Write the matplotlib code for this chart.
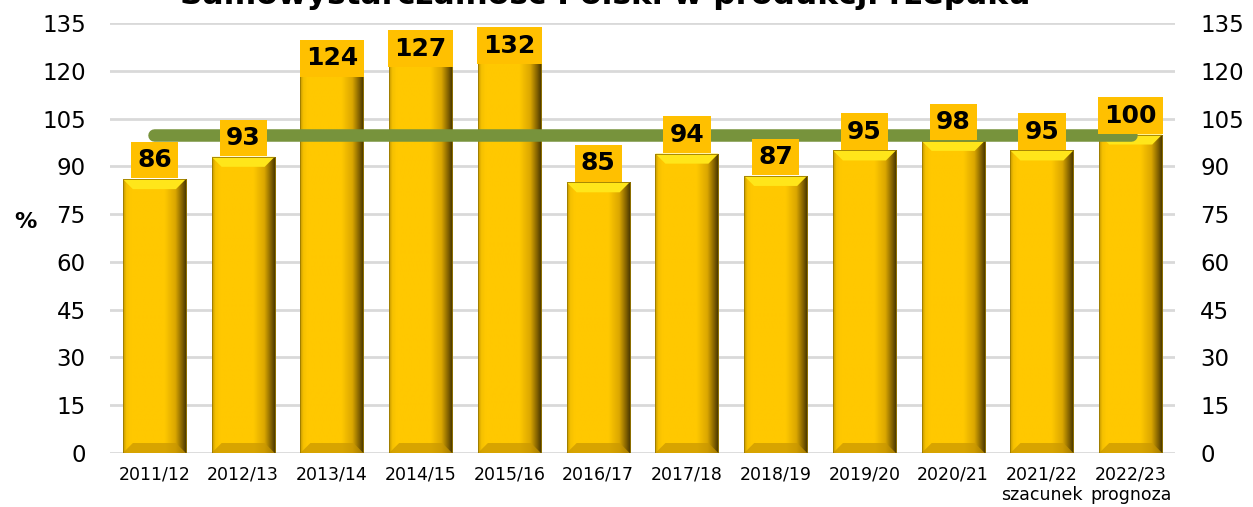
import numpy as np
import matplotlib.pyplot as plt
from matplotlib.patches import Rectangle, Polygon
from matplotlib.colors import to_rgb

seasons = ["2011/12", "2012/13", "2013/14", "2014/15", "2015/16", "2016/17",
           "2017/18", "2018/19", "2019/20", "2020/21", "2021/22\nszacunek", "2022/23\nprognoza"]
self_sufficiency = [86, 93, 124, 127, 132, 85, 94, 87, 95, 98, 95, 100]
reference_line = [100] * len(seasons)
y_ticks = [0, 15, 30, 45, 60, 75, 90, 105, 120, 135]

title = "Samowystarczalność Polski w produkcji rzepaku"

BAR_W = 0.71
LABEL_CAP = 122

plt.rcParams["font.family"] = ["DejaVu Sans"]

fig = plt.figure(figsize=(12.53, 5.07), dpi=100)
ax = fig.add_axes([0.0878, 0.1065, 0.85, 0.848])
x = np.arange(len(seasons))

ax.set_xlim(-0.5, len(seasons) - 0.5)
ax.set_ylim(0, 135)

# horizontal shading of the bars: slight dark left edge, gold body, dark right edge
stops = [(0.0, "#c09600"), (0.05, "#f5c000"), (0.12, "#ffc800"), (0.65, "#ffc800"),
         (0.82, "#dba700"), (0.93, "#806000"), (1.0, "#403000")]
pos = np.linspace(0, 1, 200)
grad = np.zeros((1, 200, 3))
for c in range(3):
    grad[0, :, c] = np.interp(pos, [s[0] for s in stops], [to_rgb(s[1])[c] for s in stops])

px_x = 1065 / len(seasons)
px_y = 430 / 135
bev_x = 10 / px_x
bev_y = 10 / px_y

for xi, v in zip(x, self_sufficiency):
    l, r = xi - BAR_W / 2, xi + BAR_W / 2
    rect = Rectangle((l, 0), BAR_W, v, facecolor="none", edgecolor="none", zorder=2)
    ax.add_patch(rect)
    im = ax.imshow(grad, extent=[l, r, 0, v], aspect="auto", zorder=2, interpolation="bilinear")
    im.set_clip_path(rect)
    # top bevel
    ax.add_patch(Polygon([(l, v), (r, v), (r - bev_x, v - bev_y), (l + bev_x, v - bev_y)],
                         closed=True, facecolor="#ffe61a", edgecolor="none", zorder=3))
    # bottom bevel
    ax.add_patch(Polygon([(l, 0), (r, 0), (r - bev_x, bev_y), (l + bev_x, bev_y)],
                         closed=True, facecolor="#c89600", edgecolor="none", alpha=0.7, zorder=3))
    ax.add_patch(Rectangle((l, 0), BAR_W, v, facecolor="none", edgecolor="#9a7a00",
                           linewidth=0.6, zorder=3))

ax.plot(x, reference_line, color="#77933c", linewidth=9, solid_capstyle="round", zorder=4)

for xi, v in zip(x, self_sufficiency):
    # tall bars: label pulled down inside the plot area
    base = v if v <= 110 else min(v - 6, LABEL_CAP)
    ax.annotate(str(v), (xi, base), xytext=(0, 5), textcoords="offset points",
                ha="center", va="bottom", fontsize=18, fontweight="bold", color="black",
                zorder=5,
                bbox=dict(boxstyle="square,pad=0.25", facecolor="#ffc000", edgecolor="none"))

ax.set_yticks(y_ticks)
ax.grid(axis="y", color="#d9d9d9", linewidth=2)
ax.set_axisbelow(True)
for s in ax.spines.values():
    s.set_visible(False)
ax.tick_params(axis="y", length=0, pad=17.5, labelsize=16.5)
ax.set_xticks(x)
ax.set_xticklabels(seasons, fontsize=12.5, linespacing=1.15, va="top")
ax.tick_params(axis="x", length=0, pad=9)

ax2 = ax.twinx()
ax2.set_ylim(0, 135)
ax2.set_yticks(y_ticks)
for s in ax2.spines.values():
    s.set_visible(False)
ax2.tick_params(axis="y", length=0, pad=18, labelsize=16.5)

fig.text(0.02, 1 - 222 / 507, "%", fontsize=16, fontweight="bold", ha="center", va="center")
fig.text(0.483, 1 - 4 / 507, title, fontsize=22.5, fontweight="bold", ha="center", va="baseline")

fig.savefig("out.png", dpi=100)
